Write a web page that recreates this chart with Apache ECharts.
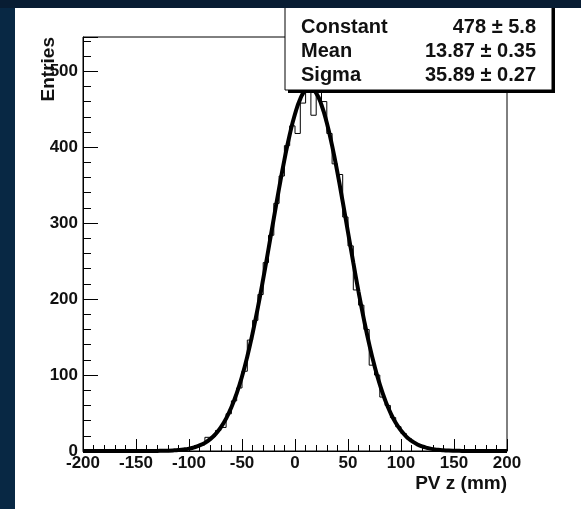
<!DOCTYPE html>
<html>
<head>
<meta charset="utf-8">
<script src="https://cdn.jsdelivr.net/npm/echarts@6/dist/echarts.min.js"></script>
<style>
html,body{margin:0;padding:0;width:581px;height:509px;overflow:hidden;}
body{background:#082844;position:relative;}
#topband{position:absolute;left:0;top:0;width:581px;height:8px;background:#081d33;z-index:5;}
#chart{position:absolute;left:15px;top:8px;width:566px;height:501px;background:#ffffff;}
</style>
</head>
<body>
<div id="topband"></div>
<div id="chart"></div>
<script>
// Histogram: 80 bins of 5 mm from -200 to 200
const binLow = -200;
const binWidth = 5;
const counts = [
  1, 0, 0, 1, 2, 0, 1, 0, 1, 0,
  2, 1, 1, 2, 1, 0, 1, 2, 1, 3,
  4, 7, 8, 18, 19, 27, 31, 49, 66, 83,
  105, 146, 172, 206, 248, 284, 326, 362, 402, 428,
  418, 458, 485, 442, 478, 460, 418, 378, 364, 308,
  270, 212, 192, 160, 113, 100, 71, 60, 44, 32,
  23, 16, 11, 8, 5, 3, 2, 1, 1, 0,
  0, 1, 0, 0, 1, 0, 0, 0, 1, 0
];
// Gaussian fit curve read at every 5 mm from -200 to 200
const fitX = [];
for (let x = -200; x <= 200; x += 5) fitX.push(x);
const fitY = [
  0, 0, 0, 0, 0, 0, 0, 0, 0, 0,
  0, 0, 0.05, 0.09, 0.16, 0.27, 0.45, 0.76, 1.24, 1.98,
  3.1, 4.8, 7.3, 10.7, 15.6, 22.3, 31.1, 42.7, 57.5, 75.9,
  98.1, 124.5, 155.0, 189.2, 226.5, 265.9, 306.2, 345.9, 383.2, 416.3,
  443.6, 463.6, 475.2, 477.8, 471.1, 455.5, 432.1, 401.9, 366.7, 328.2,
  288.0, 247.9, 209.3, 173.3, 140.7, 112.1, 87.6, 67.1, 50.4, 37.1,
  26.9, 19.0, 13.2, 9.0, 6.0, 4.0, 2.5, 1.6, 1.0, 0.6,
  0.35, 0.2, 0.1, 0.06, 0, 0, 0, 0, 0, 0,
  0
];
// Fit statistics box
const statNames = ['Constant', 'Mean', 'Sigma'];
const statValues = ['478 \u00b1 5.8', '13.87 \u00b1 0.35', '35.89 \u00b1 0.27'];
const xTitle = 'PV z (mm)';
const yTitle = 'Entries';

const histData = counts.map((c, i) => [binLow + i * binWidth, c]);
histData.push([binLow + counts.length * binWidth, counts[counts.length - 1]]);
const fitData = fitX.map((x, i) => [x, fitY[i]]);

const FONT = '"Liberation Sans", Arial, Helvetica, sans-serif';
const TXT = '#111';

const chart = echarts.init(document.getElementById('chart'), null, {renderer: 'canvas'});

const graphics = [
  // stats box shadow
  {type: 'rect', z: 100, shape: {x: 273, y: -10, width: 267, height: 95}, style: {fill: '#000'}},
  {type: 'rect', z: 101, shape: {x: 270, y: -10, width: 267, height: 92}, style: {fill: '#fff', stroke: '#000', lineWidth: 1}},
  {type: 'text', z: 102, rotation: Math.PI / 2, x: 34, y: 29,
    style: {text: yTitle, font: 'bold 19px ' + FONT, fill: TXT, align: 'right', verticalAlign: 'middle'}},
  {type: 'text', z: 102, x: 492, y: 476,
    style: {text: xTitle, font: 'bold 19px ' + FONT, fill: TXT, align: 'right', verticalAlign: 'middle'}}
];
statNames.forEach((n, i) => {
  graphics.push({type: 'text', z: 102, x: 286, y: 19 + i * 24,
    style: {text: n, font: 'bold 20px ' + FONT, fill: TXT, align: 'left', verticalAlign: 'middle'}});
  graphics.push({type: 'text', z: 102, x: 521, y: 19 + i * 24,
    style: {text: statValues[i], font: 'bold 20px ' + FONT, fill: TXT, align: 'right', verticalAlign: 'middle'}});
});

chart.setOption({
  animation: false,
  grid: {left: 68, top: 29, right: 74, bottom: 58, show: true, borderColor: '#000', borderWidth: 1, backgroundColor: 'transparent'},
  xAxis: {
    type: 'value', min: -200, max: 200, interval: 50,
    axisLine: {show: true, onZero: false, lineStyle: {color: '#000', width: 1}},
    axisTick: {show: true, inside: true, length: 12, lineStyle: {color: '#000', width: 1}},
    minorTick: {show: true, splitNumber: 5, length: 6, lineStyle: {color: '#000', width: 1}},
    splitLine: {show: false},
    axisLabel: {show: true, showMinLabel: true, showMaxLabel: true, margin: 4, color: TXT, fontFamily: FONT, fontWeight: 'bold', fontSize: 17}
  },
  yAxis: {
    type: 'value', min: 0, max: 545, interval: 100,
    axisLine: {show: true, onZero: false, lineStyle: {color: '#000', width: 1}},
    axisTick: {show: true, inside: true, length: 15, lineStyle: {color: '#000', width: 1}},
    minorTick: {show: true, splitNumber: 5, length: 8, lineStyle: {color: '#000', width: 1}},
    splitLine: {show: false},
    axisLabel: {show: true, margin: 5, color: TXT, fontFamily: FONT, fontWeight: 'bold', fontSize: 17,
      formatter: v => (v % 100 === 0 ? String(v) : '')}
  },
  series: [
    {type: 'line', name: 'histogram', data: histData, step: 'end', showSymbol: false, z: 2,
      lineStyle: {color: '#000', width: 1}, silent: true},
    {type: 'line', name: 'fit', data: fitData, smooth: true, showSymbol: false, z: 3,
      lineStyle: {color: '#000', width: 4}, silent: true}
  ],
  graphic: graphics
});
</script>
</body>
</html>
